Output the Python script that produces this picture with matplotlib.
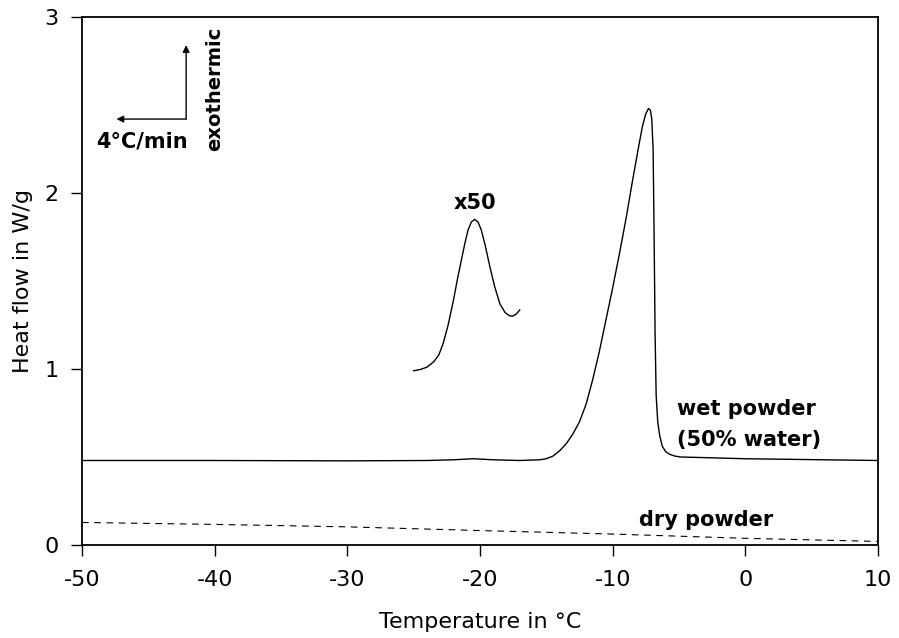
import matplotlib
matplotlib.use("Agg")
import matplotlib.pyplot as plt

plt.rcParams["font.family"] = ["DejaVu Sans"]

# wet powder (50% water), W/g
wet_t = [-50, -40, -30, -24, -22, -20.5, -19, -17, -15.5, -15.0, -14.5, -14.0,
         -13.5, -13.0, -12.5, -12.0, -11.5, -11.0, -10.5, -10.0, -9.5, -9.0,
         -8.5, -8.0, -7.75, -7.5, -7.3, -7.15, -7.05, -6.95, -6.88, -6.8,
         -6.72, -6.6, -6.45, -6.25, -6.0, -5.7, -5.3, -4.9, 0, 5, 10]
wet_hf = [0.48, 0.48, 0.478, 0.48, 0.484, 0.49, 0.484, 0.48, 0.484, 0.49,
          0.505, 0.535, 0.575, 0.63, 0.70, 0.80, 0.94, 1.10, 1.28, 1.46, 1.65,
          1.85, 2.07, 2.28, 2.38, 2.45, 2.48, 2.47, 2.42, 2.25, 1.8, 1.2, 0.85,
          0.70, 0.62, 0.56, 0.53, 0.515, 0.505, 0.50, 0.49, 0.485, 0.48]

# small peak magnified x50
x50_t = [-25.0, -24.5, -24.0, -23.5, -23.1, -22.77, -22.4, -22.0, -21.7, -21.4,
         -21.15, -20.9, -20.65, -20.4, -20.15, -19.9, -19.6, -19.25, -18.9,
         -18.5, -18.1, -17.8, -17.55, -17.3, -17.0]
x50_hf = [0.99, 0.997, 1.01, 1.04, 1.08, 1.146, 1.25, 1.39, 1.51, 1.62, 1.71,
          1.79, 1.835, 1.85, 1.835, 1.79, 1.70, 1.58, 1.47, 1.37, 1.32, 1.303,
          1.30, 1.31, 1.335]

# dry powder
dry_t = [-50, -40, -30, -20, -10, 0, 10]
dry_hf = [0.128, 0.117, 0.103, 0.082, 0.062, 0.038, 0.02]

xticks = [-50, -40, -30, -20, -10, 0, 10]
xlabels = ["-50", "-40", "-30", "-20", "-10", "0", "10"]
yticks = [0, 1, 2, 3]

fig = plt.figure(figsize=(8.99, 6.38), dpi=100)
ax = fig.add_axes([0.0912, 0.1458, 0.8854, 0.8276])

ax.plot(wet_t, wet_hf, color="black", lw=1.0)
ax.plot(x50_t, x50_hf, color="black", lw=1.0)
ax.plot(dry_t, dry_hf, color="black", lw=0.8, dashes=(6, 5))

ax.set_xlim(-50, 10)
ax.set_ylim(0, 3)
ax.set_xticks(xticks)
ax.set_xticklabels(xlabels)
ax.set_yticks(yticks)
ax.tick_params(direction="out", length=8, width=1.0, labelsize=16)
ax.tick_params(axis="x", pad=10)
ax.tick_params(axis="y", pad=9)
for s in ax.spines.values():
    s.set_linewidth(1.3)

ax.set_xlabel("Temperature in \u00b0C", fontsize=16, labelpad=16)
ax.set_ylabel("Heat flow in W/g", fontsize=16, labelpad=8)

# heating-rate / exothermic arrows
ax.annotate("", xy=(-47.4, 2.42), xytext=(-42.15, 2.42),
            arrowprops=dict(arrowstyle="-|>", color="black", lw=1.0,
                            mutation_scale=10, shrinkA=0, shrinkB=0))
ax.annotate("", xy=(-42.15, 2.84), xytext=(-42.15, 2.42),
            arrowprops=dict(arrowstyle="-|>", color="black", lw=1.0,
                            mutation_scale=10, shrinkA=0, shrinkB=0))
ax.text(-42.0, 2.29, "4\u00b0C/min", fontsize=15, fontweight="bold",
        ha="right", va="center")
ax.text(-40.0, 2.59, "exothermic", fontsize=14, fontweight="bold",
        rotation=90, ha="center", va="center")

ax.text(-20.4, 1.945, "x50", fontsize=15, fontweight="bold",
        ha="center", va="center")
ax.text(-5.15, 0.77, "wet powder", fontsize=15, fontweight="bold",
        ha="left", va="center")
ax.text(-5.15, 0.595, "(50% water)", fontsize=15, fontweight="bold",
        ha="left", va="center")
ax.text(-8.0, 0.144, "dry powder", fontsize=15, fontweight="bold",
        ha="left", va="center")

fig.savefig("out.png", dpi=100)
